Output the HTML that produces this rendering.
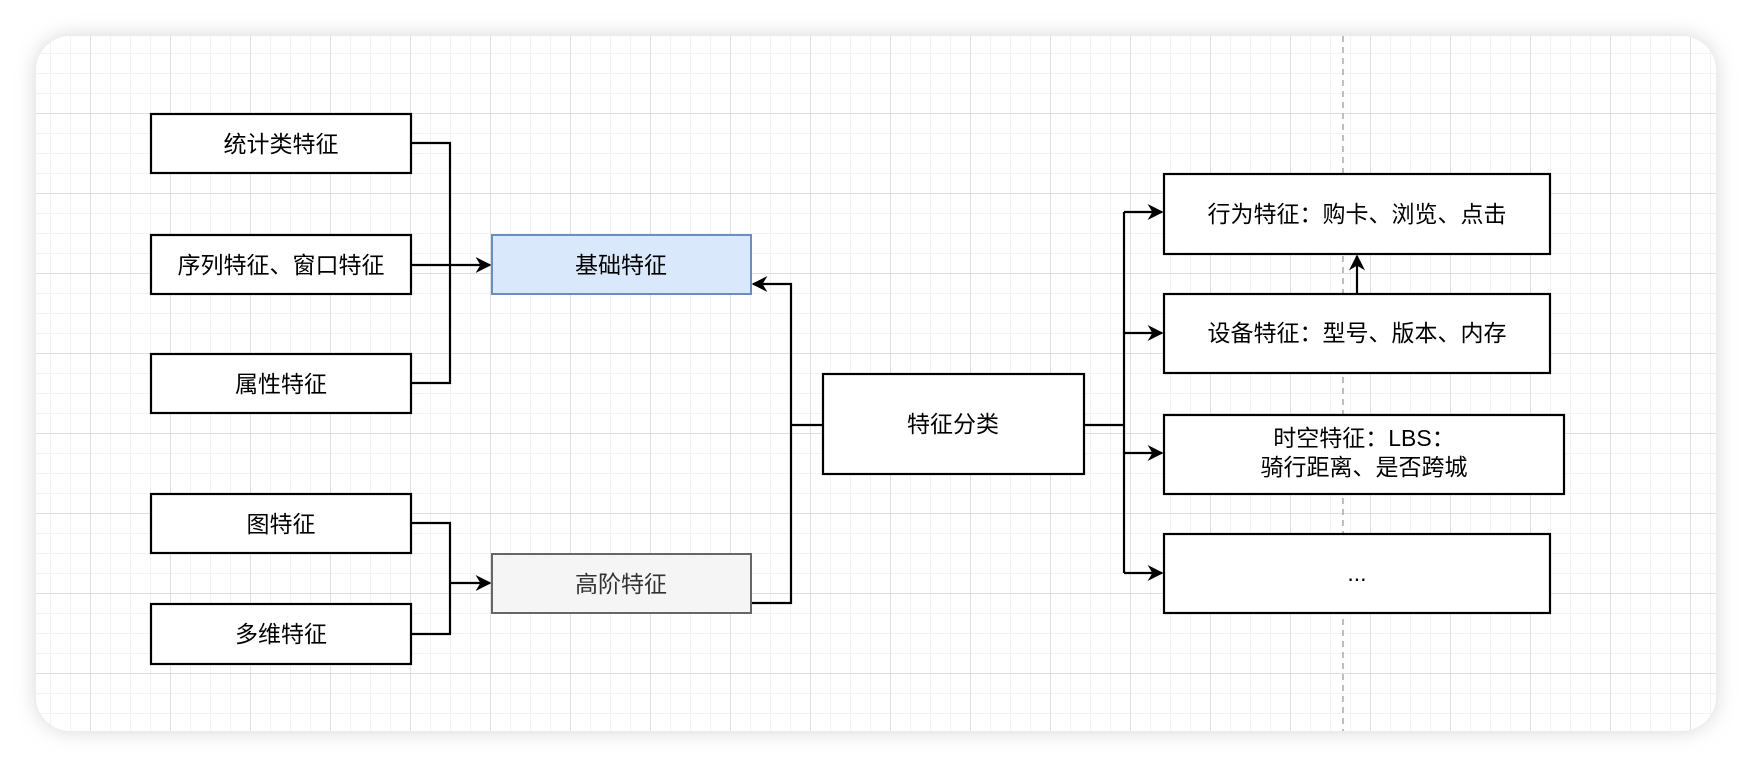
<!DOCTYPE html>
<html><head><meta charset="utf-8"><style>
html,body{margin:0;padding:0;background:#fff;width:1752px;height:766px;overflow:hidden}
text{font-family:"Liberation Sans","Noto Sans CJK SC",sans-serif;font-size:23px;fill:#000}
</style></head><body>
<svg width="1752" height="766" viewBox="0 0 1752 766" xmlns="http://www.w3.org/2000/svg">
<defs>
<filter id="sh" x="-5%" y="-10%" width="110%" height="120%"><feGaussianBlur stdDeviation="10"/></filter>
<pattern id="minor" x="10" y="13" width="20" height="20" patternUnits="userSpaceOnUse">
<path d="M0 0H20M0 0V20" stroke="#eeeeee" stroke-width="1.5" fill="none"/></pattern>
<pattern id="major" x="10" y="33" width="80" height="80" patternUnits="userSpaceOnUse">
<path d="M0 0H80M0 0V80" stroke="#d0d0d0" stroke-width="1.2" fill="none"/></pattern>
<clipPath id="cv"><rect x="36" y="36" width="1680" height="695" rx="34"/></clipPath>
<marker id="ar" viewBox="0 0 10 10" refX="9" refY="5" markerWidth="16" markerHeight="16" markerUnits="userSpaceOnUse" orient="auto">
<path d="M0 0L10 5L0 10L3 5Z" fill="#000"/></marker>
</defs>
<rect x="36" y="36" width="1680" height="695" rx="34" fill="#bbb" filter="url(#sh)" opacity="0.6"/>
<rect x="36" y="36" width="1680" height="695" rx="34" fill="#fff"/>
<g clip-path="url(#cv)">
<rect x="36" y="36" width="1680" height="695" fill="url(#minor)"/>
<rect x="36" y="36" width="1680" height="695" fill="url(#major)"/>
<line x1="1343" y1="36" x2="1343" y2="731" stroke="#aaa" stroke-width="1.5" stroke-dasharray="6,5"/>
</g>
<g fill="none" stroke="#000" stroke-width="2.2">
<polyline points="411,143 450,143 450,383 411,383"/>
<line x1="411" y1="265" x2="490" y2="265" marker-end="url(#ar)"/>
<polyline points="411,523 450,523 450,634 411,634"/>
<line x1="450" y1="583" x2="490" y2="583" marker-end="url(#ar)"/>
<polyline points="823,425 791,425"/>
<polyline points="751,603 791,603 791,284 753,284" marker-end="url(#ar)"/>
<polyline points="1084,425 1124,425"/>
<line x1="1124" y1="212" x2="1124" y2="573"/>
<line x1="1124" y1="212" x2="1162" y2="212" marker-end="url(#ar)"/>
<line x1="1124" y1="333" x2="1162" y2="333" marker-end="url(#ar)"/>
<line x1="1124" y1="453" x2="1162" y2="453" marker-end="url(#ar)"/>
<line x1="1124" y1="573" x2="1162" y2="573" marker-end="url(#ar)"/>
<line x1="1357" y1="294" x2="1357" y2="256" marker-end="url(#ar)"/>
</g>
<g stroke="#000" stroke-width="2.2" fill="#fff">
<rect x="151" y="114" width="260" height="59"/>
<rect x="151" y="235" width="260" height="59"/>
<rect x="151" y="354" width="260" height="59"/>
<rect x="151" y="494" width="260" height="59"/>
<rect x="151" y="604" width="260" height="60"/>
<rect x="823" y="374" width="261" height="100"/>
<rect x="1164" y="174" width="386" height="80"/>
<rect x="1164" y="294" width="386" height="79"/>
<rect x="1164" y="415" width="400" height="79"/>
<rect x="1164" y="534" width="386" height="79"/>
</g>
<rect x="492" y="235" width="259" height="59" fill="#dae8fc" stroke="#6c8ebf" stroke-width="2"/>
<rect x="492" y="554" width="259" height="59" fill="#f5f5f5" stroke="#666" stroke-width="2"/>
<g text-anchor="middle">
<text x="281" y="152">统计类特征</text>
<text x="281" y="273">序列特征、窗口特征</text>
<text x="281" y="392">属性特征</text>
<text x="281" y="532">图特征</text>
<text x="281" y="642">多维特征</text>
<text x="621" y="273">基础特征</text>
<text x="621" y="592" style="fill:#333">高阶特征</text>
<text x="953" y="432">特征分类</text>
<text x="1357" y="222">行为特征：购卡、浏览、点击</text>
<text x="1357" y="341">设备特征：型号、版本、内存</text>
<text x="1364" y="446">时空特征：LBS：</text>
<text x="1364" y="475">骑行距离、是否跨城</text>
<text x="1357" y="581">...</text>
</g>
</svg>
</body></html>
